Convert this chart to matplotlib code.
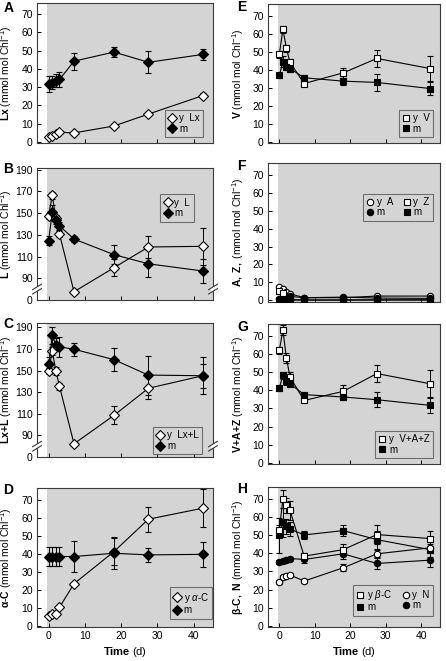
import matplotlib
matplotlib.use("Agg")
import matplotlib.pyplot as plt
import matplotlib.transforms as mtransforms
from matplotlib.lines import Line2D

plt.rcParams['font.family'] = ['Liberation Sans', 'DejaVu Sans']
plt.rcParams['mathtext.fontset'] = 'custom'
plt.rcParams['mathtext.rm'] = 'Liberation Sans'
plt.rcParams['mathtext.bf'] = 'Liberation Sans:bold'
plt.rcParams['mathtext.it'] = 'Liberation Sans:italic'

# sampling days
t = [0, 1, 2, 3, 7, 18, 27.5, 42.5]

# A: Lx
lx_y = [3.0, 3.5, 4.6, 5.4, 5.0, 8.8, 15.3, 25.4]
lx_y_err = [0.5, 0.5, 0.5, 0.5, 0.8, 1.0, 1.2, 1.2]
lx_m = [31.7, 32.5, 33.5, 34.2, 44.2, 49.2, 43.6, 47.9]
lx_m_err = [4.2, 3.5, 3.5, 4.0, 4.6, 2.8, 6.0, 3.1]

# B: L
l_y = [147.3, 166.4, 145.2, 130.6, 77.6, 99.7, 118.8, 119.4]
l_y_err = [3, 3, 3, 3, 1, 8, 10, 17]
l_m = [124.5, 150.6, 143.6, 138.2, 126.1, 111.8, 103.3, 96.7]
l_m_err = [4.3, 7, 4, 4, 3, 9, 12.5, 11]

# C: Lx+L
lxl_y = [149.7, 168.2, 149.7, 135.4, 82.2, 108.5, 133.6, 145.2]
lxl_y_err = [3, 4, 4, 3, 1, 8.4, 10, 17]
lxl_m = [155.7, 182.5, 174.0, 172.0, 169.7, 160.1, 145.8, 145.2]
lxl_m_err = [7, 8, 6, 9, 6, 10.5, 18, 11]

# D: alpha-C
ac_y = [5.4, 6.4, 6.7, 10.3, 23.4, 41.2, 59.2, 65.3]
ac_y_err = [0.5, 0.5, 0.5, 1, 1, 7.6, 7, 10.5]
ac_m = [38.5, 38.5, 38.5, 38.5, 38.5, 40.3, 39.4, 39.7]
ac_m_err = [5.5, 5.5, 5.5, 5.5, 8.5, 9, 4, 7]

# E: V
v_y = [48.7, 62.4, 51.9, 44.1, 32.4, 38.3, 46.3, 40.7]
v_y_err = [2, 2, 2, 2, 1, 2.8, 4.6, 6.9]
v_m = [37.0, 44.4, 41.7, 40.7, 35.6, 33.7, 33.0, 29.6]
v_m_err = [1.5, 3, 2, 2, 1.5, 2, 4.5, 3.5]

# F: A and Z
a_y = [7.7, 6.4, 4.9, 3.7, 1.5, 1.5, 2.4, 2.4]
a_m = [0.5, 1.5, 1.8, 2.2, 1.5, 1.8, 1.3, 1.1]
z_y = [5.1, 3.9, 0.3, 0.2, 0.2, 0.2, 0.3, 0.3]
z_m = [0.2, 0.3, 0.6, 0.4, 0.2, 0.2, 0.2, 0.2]

# G: V+A+Z
vaz_y = [62.1, 73.1, 57.8, 47.3, 34.4, 39.4, 49.2, 43.6]
vaz_y_err = [2, 2.8, 3, 3, 1, 3.3, 4.9, 7.4]
vaz_m = [41.3, 48.3, 44.9, 43.6, 37.6, 36.3, 34.8, 31.7]
vaz_m_err = [1.5, 2, 2, 2, 1.5, 1.5, 4.2, 4.1]

# H: beta-C and N
bc_y = [52.7, 70.0, 66.4, 63.6, 38.4, 42.0, 50.3, 48.1]
bc_y_err = [3, 5, 4, 5, 2, 3.3, 5.1, 4]
bc_m = [49.9, 57.0, 54.8, 53.4, 50.1, 52.5, 47.5, 42.0]
bc_m_err = [9.8, 8, 4, 4, 2, 3, 5, 4]
n_y = [24.3, 26.9, 27.4, 28.0, 24.7, 32.0, 39.7, 43.0]
n_y_err = [1, 1, 1, 1, 1, 2, 2, 2]
n_m = [35.1, 35.6, 36.2, 37.1, 36.6, 39.7, 34.4, 36.2]
n_m_err = [1, 1, 1, 1, 2, 3, 3, 4]

W, H = 446, 661
fig = plt.figure(figsize=(W / 100, H / 100), dpi=100)

GREY = '#d4d4d4'
EDGE = '#3a3a3a'
DMS = 5.0   # diamond size
SMS = 4.6   # square / circle size


def make_ax(x0, x1, top, bottom):
    ax = fig.add_axes([x0 / W, 1 - bottom / H, (x1 - x0) / W, (bottom - top) / H])
    ax.set_facecolor('white')
    ax.axvspan(-0.5, 50, color=GREY, zorder=0, lw=0)
    ax.set_xlim(-3.2, 45.3)
    ax.set_xticks([0, 10, 20, 30, 40])
    ax.tick_params(direction='in', length=3, width=0.7, labelsize=7.5, colors='black', pad=3)
    for s in ax.spines.values():
        s.set_color(EDGE)
        s.set_linewidth(0.8)
    return ax


def series(ax, y, err, marker, fc, ms, z=3):
    ax.errorbar(t, y, yerr=err, color='black', lw=0.8, marker=marker, ms=ms,
                mfc=fc, mec='black', mew=0.8, ecolor='black', elinewidth=0.7,
                capsize=2.5, capthick=0.7, zorder=z)


def handle(marker, fc, ms):
    return Line2D([], [], ls='none', marker=marker, ms=ms, mfc=fc, mec='black', mew=0.8)


def legend(ax, items, loc, anchor, ncol=1):
    lg = ax.legend([handle(*i[:3]) for i in items], [i[3] for i in items],
                   loc=loc, bbox_to_anchor=anchor, ncol=ncol, fontsize=7,
                   frameon=True, fancybox=False, borderaxespad=0, borderpad=0.35,
                   handlelength=0.8, handletextpad=0.3, labelspacing=0.05,
                   columnspacing=1.0)
    lg.get_frame().set_facecolor(GREY)
    lg.get_frame().set_edgecolor('#555555')
    lg.get_frame().set_linewidth(0.8)
    return lg


def break_axis(ax, yv):
    trans = mtransforms.blended_transform_factory(ax.transAxes, ax.transData)
    for xa in (0, 1):
        ax.plot([xa, xa], [yv - 2.0, yv + 2.0], transform=trans, color='white',
                lw=3, clip_on=False, zorder=5, solid_capstyle='butt')
        for dy in (-2.0, 2.0):
            ax.plot([xa - 0.025, xa + 0.025], [yv + dy - 2.5, yv + dy + 2.5],
                    transform=trans, color=EDGE, lw=0.8, clip_on=False, zorder=6)


def ylab(ax, text, xpix):
    ax.set_ylabel(text, fontsize=7.5)
    ax.yaxis.set_label_coords(xpix / W, 0.5, transform=mtransforms.blended_transform_factory(
        fig.transFigure, ax.transAxes))


unit = r' (mmol mol Chl$^{-1}$)'

LX0, LX1 = 37, 213
RX0, RX1 = 268, 440
LYL, RYL = 14.5, 246

# A
ax = make_ax(LX0, LX1, 3, 143)
series(ax, lx_y, lx_y_err, 'D', 'white', DMS)
series(ax, lx_m, lx_m_err, 'D', 'black', DMS)
ax.set_ylim(-0.5, 76)
ax.set_yticks(range(0, 71, 10))
ax.set_xticklabels([])
ylab(ax, r'$\mathbf{Lx}$' + unit, LYL)
legend(ax, [('D', 'white', DMS, 'y  Lx'), ('D', 'black', DMS, 'm')], 'lower right', (0.943, 0.043))

# B
ax = make_ax(LX0, LX1, 168, 300)
series(ax, l_y, l_y_err, 'D', 'white', DMS)
series(ax, l_m, l_m_err, 'D', 'black', DMS)
ax.set_ylim(70, 191.5)
ax.set_yticks([70, 90, 110, 130, 150, 170, 190])
ax.set_yticklabels(['0', '90', '110', '130', '150', '170', '190'])
ax.set_xticklabels([])
break_axis(ax, 80)
ylab(ax, r'$\mathbf{L}$' + unit, LYL)
legend(ax, [('D', 'white', DMS, 'y  L'), ('D', 'black', DMS, 'm')], 'upper right', (0.89, 0.80))

# C
ax = make_ax(LX0, LX1, 323, 457)
series(ax, lxl_y, lxl_y_err, 'D', 'white', DMS)
series(ax, lxl_m, lxl_m_err, 'D', 'black', DMS)
ax.set_ylim(70, 194)
ax.set_yticks([70, 90, 110, 130, 150, 170, 190])
ax.set_yticklabels(['0', '90', '110', '130', '150', '170', '190'])
ax.set_xticklabels([])
break_axis(ax, 80)
ylab(ax, r'$\mathbf{Lx\!+\!L}$' + unit, LYL)
legend(ax, [('D', 'white', DMS, 'y  Lx+L'), ('D', 'black', DMS, 'm')], 'lower right', (0.94, 0.02))

# D
ax = make_ax(LX0, LX1, 488, 627)
series(ax, ac_y, ac_y_err, 'D', 'white', DMS)
series(ax, ac_m, ac_m_err, 'D', 'black', DMS)
ax.set_ylim(-0.6, 76.5)
ax.set_yticks(range(0, 71, 10))
ylab(ax, r'$\mathbf{α}$' + r'$\mathbf{\text{-}C}$' + unit, LYL)
ax.set_xlabel(r'$\mathbf{Time}$ (d)', fontsize=8, labelpad=3)
legend(ax, [('D', 'white', DMS, r'y $\it{α}$-C'), ('D', 'black', DMS, 'm')], 'lower right', (0.995, 0.06))

# E
ax = make_ax(RX0, RX1, 4, 143)
series(ax, v_y, v_y_err, 's', 'white', SMS)
series(ax, v_m, v_m_err, 's', 'black', SMS)
ax.set_ylim(-0.6, 76.5)
ax.set_yticks(range(0, 71, 10))
ax.set_xticklabels([])
ylab(ax, r'$\mathbf{V}$' + unit, RYL)
legend(ax, [('s', 'white', SMS, 'y  V'), ('s', 'black', SMS, 'm')], 'lower right', (0.96, 0.043))

# F
ax = make_ax(RX0, RX1, 163, 302)
series(ax, a_y, None, 'o', 'white', SMS)
series(ax, a_m, None, 'o', 'black', SMS)
series(ax, z_y, None, 's', 'white', SMS)
series(ax, z_m, None, 's', 'black', SMS)
ax.set_ylim(-0.9, 76.5)
ax.set_yticks(range(0, 71, 10))
ax.set_xticklabels([])
ylab(ax, r'$\mathbf{A,\ Z,}$' + unit, RYL)
legend(ax, [('o', 'white', SMS, 'y  A'), ('o', 'black', SMS, 'm'),
            ('s', 'white', SMS, 'y  Z'), ('s', 'black', SMS, 'm')],
       'upper right', (0.96, 0.78), ncol=2)

# G
ax = make_ax(RX0, RX1, 324, 464)
series(ax, vaz_y, vaz_y_err, 's', 'white', SMS)
series(ax, vaz_m, vaz_m_err, 's', 'black', SMS)
ax.set_ylim(-0.6, 76.5)
ax.set_yticks(range(0, 71, 10))
ax.set_xticklabels([])
ylab(ax, r'$\mathbf{V\!+\!A\!+\!Z}$' + unit, RYL)
legend(ax, [('s', 'white', SMS, 'y  V+A+Z'), ('s', 'black', SMS, 'm')], 'lower right', (0.96, 0.043))

# H
ax = make_ax(RX0, RX1, 487, 627)
series(ax, bc_m, bc_m_err, 's', 'black', SMS, z=3)
series(ax, n_m, n_m_err, 'o', 'black', SMS, z=3)
series(ax, bc_y, bc_y_err, 's', 'white', SMS, z=4)
series(ax, n_y, n_y_err, 'o', 'white', SMS, z=4)
ax.set_ylim(-0.6, 76.5)
ax.set_yticks(range(0, 71, 10))
ylab(ax, r'$\mathbf{β\text{-}C,\ N}$' + unit, RYL)
ax.set_xlabel(r'$\mathbf{Time}$ (d)', fontsize=8, labelpad=3)
legend(ax, [('s', 'white', SMS, r'y $\it{β}$-C'), ('s', 'black', SMS, 'm'),
            ('o', 'white', SMS, 'y  N'), ('o', 'black', SMS, 'm')],
       'lower right', (0.96, 0.08), ncol=2)

# panel letters
for letter, xp, yp in [('A', 4, 8), ('B', 3, 169), ('C', 3, 324), ('D', 3, 490),
                       ('E', 237, 7), ('F', 237, 166), ('G', 237, 327), ('H', 237, 489)]:
    fig.text(xp / W, 1 - yp / H, letter, fontsize=10, fontweight='bold', va='center', ha='left')

fig.savefig('out.png', dpi=100)
